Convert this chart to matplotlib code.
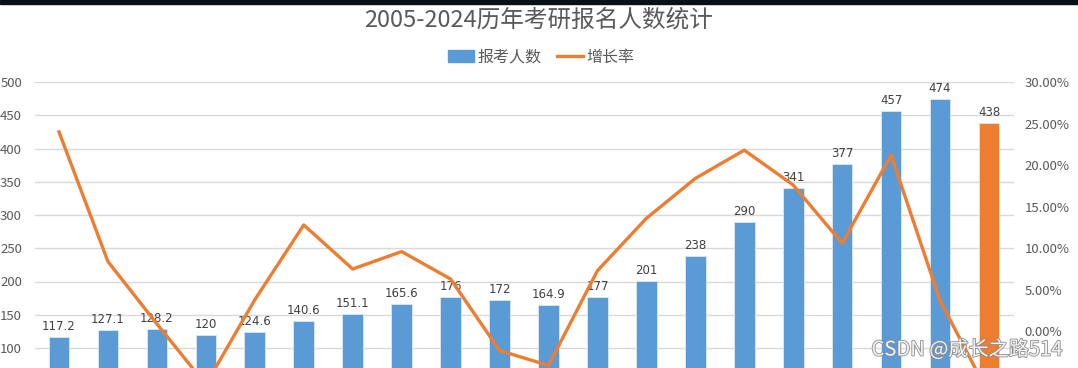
import matplotlib
matplotlib.use("Agg")
import matplotlib.pyplot as plt
import matplotlib.patheffects as pe
from matplotlib.patches import Patch, Rectangle
from matplotlib.lines import Line2D
from matplotlib.ticker import FuncFormatter

plt.rcParams['font.family'] = ['Noto Sans CJK SC', 'DejaVu Sans']

years = [str(y) for y in range(2005, 2025)]
applicants = [117.2, 127.1, 128.2, 120, 124.6, 140.6, 151.1, 165.6, 176, 172,
              164.9, 177, 201, 238, 290, 341, 377, 457, 474, 438]
growth = [24.0, 8.4, 0.9, -6.4, 3.8, 12.8, 7.5, 9.6, 6.3, -2.3,
          -4.1, 7.3, 13.6, 18.4, 21.8, 17.6, 10.6, 21.2, 3.7, -7.6]

blue = '#5B9BD5'
orange = '#ED7D31'
grey = '#595959'

W, H = 1078, 368
fig = plt.figure(figsize=(W / 100, H / 100), dpi=100)

# plot area runs past the bottom edge (the reference is cropped)
left, right, top, bottom = 34.5, 1013.5, 82, 414.5
ax = fig.add_axes([left / W, (H - bottom) / H, (right - left) / W, (bottom - top) / H])

x = range(len(years))
colors = [blue] * (len(years) - 1) + [orange]
ax.bar(x, applicants, width=0.42, color=colors, edgecolor='#dbe8f5',
       linewidth=0.6, zorder=2)
ax.set_xlim(-0.5, len(years) - 0.5)
ax.set_ylim(0, 500)
ax.set_yticks(range(0, 501, 50))
# labels below 100 fall outside the cropped picture
ax.yaxis.set_major_formatter(FuncFormatter(lambda v, p: f'{v:g}' if v >= 100 else ''))
ax.grid(axis='y', color='#d9d9d9', linewidth=1, zorder=0)
ax.set_axisbelow(True)
for s in ax.spines.values():
    s.set_visible(False)
ax.tick_params(axis='y', length=0, pad=9, labelsize=9.5, labelcolor=grey)
ax.tick_params(axis='x', length=0, labelbottom=False)

for xi, v in zip(x, applicants):
    ax.text(xi, v + 6, f'{v:g}', ha='center', va='bottom', fontsize=8.5,
            color='#404040', family=['DejaVu Sans'])

ax2 = ax.twinx()
ax2.plot(x, growth, color=orange, linewidth=2.4, zorder=3)
ax2.set_ylim(-10, 30)
ax2.set_yticks(range(-10, 31, 5))
ax2.yaxis.set_major_formatter(FuncFormatter(lambda v, p: f'{v:.2f}%' if v > -10 else ''))
for s in ax2.spines.values():
    s.set_visible(False)
ax2.tick_params(axis='y', length=0, pad=8, labelsize=9.5, labelcolor=grey)

fig.text(0.5, 1 - 20 / H, '2005-2024历年考研报名人数统计', ha='center', va='center',
         fontsize=17, color=grey)

handles = [Patch(color=blue), Line2D([], [], color=orange, linewidth=2.4)]
fig.legend(handles, ['报考人数', '增长率'], loc='center', ncol=2,
           bbox_to_anchor=(0.502, 1 - 57 / H), frameon=False, fontsize=11.5,
           labelcolor=grey, handlelength=1.6, handletextpad=0.2, columnspacing=1.0)

# dark strip at the very top of the screenshot
fig.patches.append(Rectangle((0, 1 - 4 / H), 1, 4 / H, transform=fig.transFigure,
                             color='#0b0f16', zorder=10))

fig.text(1062 / W, 1 - 350 / H, 'CSDN @成长之路514', ha='right', va='center',
         fontsize=14.5, color='#f4f4f4',
         path_effects=[pe.withStroke(linewidth=1.2, foreground='#8c8c8c')])

fig.savefig('out.png', dpi=100)
